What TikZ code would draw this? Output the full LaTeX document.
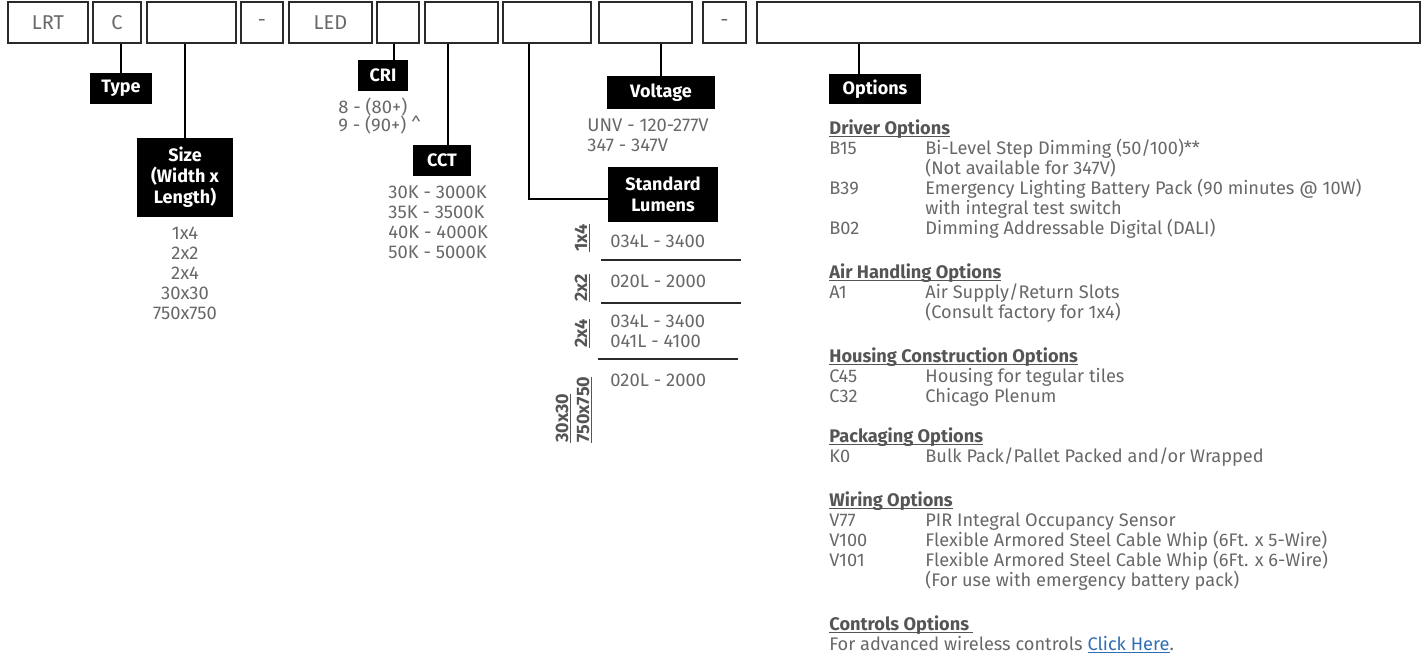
\documentclass[tikz,border=0pt]{standalone}
\usepackage{fontspec}
\setmainfont{Fira Sans}
\definecolor{txt}{HTML}{686868}
\definecolor{hd}{HTML}{555555}
\definecolor{bx}{HTML}{2A2A2A}
\definecolor{lnk}{HTML}{2F6DB5}
\newcommand\ulx[1]{\setbox0\hbox{#1}\rlap{\rule[-1.6pt]{\wd0}{0.55pt}}\box0}
\newcommand\optline[4]{%
  \node[opt,anchor=base west] (#1c) at (829,#2) {#3};
  \node[opt,anchor=base west] (#1d) at (925,#2) {#4};}
\newcommand\opthead[3]{\node[ohead,anchor=base west] (#1) at (829,#2) {\ulx{#3}};}
\begin{document}
\begin{tikzpicture}[x=0.5pt,y=-0.5pt,
  codebox/.style={draw=bx,line width=0.6pt,inner sep=0,text=txt,font=\fontsize{10}{11}\selectfont,minimum height=20.5pt},
  lab/.style={fill=black,text=white,font=\bfseries\fontsize{9}{10.5}\selectfont,inner sep=0,align=center},
  conn/.style={draw=black,line width=0.6pt},
  lst/.style={text=txt,font=\fontsize{9.2}{10}\selectfont,inner sep=0},
  opt/.style={text=txt,font=\fontsize{9.1}{10}\selectfont,inner sep=0},
  ohead/.style={text=hd,font=\bfseries\fontsize{9.1}{10}\selectfont,inner sep=0},
  rot/.style={text=hd,font=\bfseries\fontsize{9}{10}\selectfont,inner sep=0,rotate=90,anchor=base west},
  rule/.style={draw=bx,line width=0.6pt}]
\useasboundingbox (0,0) rectangle (1428,655);
% code boxes
\node[codebox,minimum width=40pt]   (b1)  at (48,22.5)    {LRT};
\node[codebox,minimum width=24pt]   (b2)  at (117,22.5)   {C};
\node[codebox,minimum width=44.5pt] (b3)  at (191.5,22.5) {};
\node[codebox,minimum width=21pt]   (b4)  at (262,22.5)   {-};
\node[codebox,minimum width=41.5pt] (b5)  at (330.5,22.5) {LED};
\node[codebox,minimum width=21pt]   (b6)  at (398,22.5)   {};
\node[codebox,minimum width=36.5pt] (b7)  at (461.5,22.5) {};
\node[codebox,minimum width=44pt]   (b8)  at (547,22.5)   {};
\node[codebox,minimum width=46.5pt] (b9)  at (645.5,22.5) {};
\node[codebox,minimum width=21.5pt] (b10) at (724.5,22.5) {-};
\node[codebox,minimum width=331.5pt](b11) at (1088.5,22.5) {};
% labels
\node[lab,minimum width=31pt,minimum height=15.5pt] (type) at (121,88.5) {Type};
\node[lab,minimum width=48pt,minimum height=39.5pt] (size) at (185,177.5) {Size\\(Width x\\Length)};
\node[lab,minimum width=25pt,minimum height=15.5pt] (cri) at (383,75.5) {CRI};
\node[lab,minimum width=29pt,minimum height=15.5pt] (cct) at (442,160.5) {CCT};
\node[lab,minimum width=54pt,minimum height=16.5pt] (volt) at (661,92.5) {Voltage};
\node[lab,minimum width=55pt,minimum height=27.5pt] (lum) at (663,194.5) {Standard\\Lumens};
\node[lab,minimum width=46pt,minimum height=15pt] (opt) at (875,89) {Options};
% connectors
\coordinate (cT) at (121,43.5);
\coordinate (cS) at (185,43.5);
\coordinate (cR) at (394,43.5);
\coordinate (cC) at (448,43.5);
\coordinate (cL) at (529,43.5);
\coordinate (cL2) at (529,199);
\coordinate (cV) at (661,43.5);
\coordinate (cO) at (859,43.5);
\draw[conn] (cT) -- (type.north);
\draw[conn] (cS) -- (size.north);
\draw[conn] (cR) -- (cR |- cri.north);
\draw[conn] (cC) -- (cC |- cct.north);
\draw[conn] (cL) -- (cL2) -- (cL2 -| lum.west);
\draw[conn] (cV) -- (volt.north);
\draw[conn] (cO) -- (cO |- opt.north);
% size list
\node[lst,anchor=base] (s1) at (185,239) {1x4};
\node[lst,anchor=base] (s2) at (185,259) {2x2};
\node[lst,anchor=base] (s3) at (185,279) {2x4};
\node[lst,anchor=base] (s4) at (185,299) {30x30};
\node[lst,anchor=base] (s5) at (185,319) {750x750};
% CRI list
\node[lst,anchor=base west] (r1) at (338,113) {8 - (80+)};
\node[lst,anchor=base west] (r2) at (338,131) {9 - (90+) \^{}};
% CCT list
\node[lst,anchor=base west] (t1) at (388,198) {30K - 3000K};
\node[lst,anchor=base west] (t2) at (388,218) {35K - 3500K};
\node[lst,anchor=base west] (t3) at (388,238) {40K - 4000K};
\node[lst,anchor=base west] (t4) at (388,258) {50K - 5000K};
% voltage list
\node[lst,anchor=base west] (v1) at (587,131) {UNV - 120-277V};
\node[lst,anchor=base west] (v2) at (587,151) {347 - 347V};
% lumens table
\node[rot] (z1) at (587,252) {\ulx{1x4}};
\node[rot] (z2) at (587,302) {\ulx{2x2}};
\node[rot] (z3) at (587,348) {\ulx{2x4}};
\node[rot] (z4) at (568,443) {\ulx{30x30}};
\node[rot] (z5) at (589,443) {\ulx{750x750}};
\node[lst,anchor=base west] (l1) at (610,247) {034L - 3400};
\node[lst,anchor=base west] (l2) at (610,287) {020L - 2000};
\node[lst,anchor=base west] (l3) at (610,327) {034L - 3400};
\node[lst,anchor=base west] (l4) at (610,347) {041L - 4100};
\node[lst,anchor=base west] (l5) at (610,386) {020L - 2000};
\coordinate (h1a) at (601,260); \coordinate (h1b) at (741,260);
\coordinate (h2a) at (601,303); \coordinate (h2b) at (741,303);
\coordinate (h3a) at (598,359); \coordinate (h3b) at (738,359);
\draw[rule] (h1a) -- (h1b);
\draw[rule] (h2a) -- (h2b);
\draw[rule] (h3a) -- (h3b);
% options
\opthead{hd1}{134}{Driver Options}
\optline{o1}{154}{B15}{Bi-Level Step Dimming (50/100)**}
\node[opt,anchor=base west] (o1x) at (925,174) {(Not available for 347V)};
\optline{o2}{194}{B39}{Emergency Lighting Battery Pack (90 minutes @ 10W)}
\node[opt,anchor=base west] (o2x) at (925,214) {with integral test switch};
\optline{o3}{234}{B02}{Dimming Addressable Digital (DALI)}
\opthead{hd2}{278}{Air Handling Options}
\optline{o4}{298}{A1}{Air Supply/Return Slots}
\node[opt,anchor=base west] (o4x) at (925,318) {(Consult factory for 1x4)};
\opthead{hd3}{362}{Housing Construction Options}
\optline{o5}{382}{C45}{Housing for tegular tiles}
\optline{o6}{402}{C32}{Chicago Plenum}
\opthead{hd4}{442}{Packaging Options}
\optline{o7}{462}{K0}{Bulk Pack/Pallet Packed and/or Wrapped}
\opthead{hd5}{506}{Wiring Options}
\optline{o8}{526}{V77}{PIR Integral Occupancy Sensor}
\optline{o9}{546}{V100}{Flexible Armored Steel Cable Whip (6Ft. x 5-Wire)}
\optline{o10}{566}{V101}{Flexible Armored Steel Cable Whip (6Ft. x 6-Wire)}
\node[opt,anchor=base west] (o10x) at (925,586) {(For use with emergency battery pack)};
\opthead{hd6}{630}{Controls Options\ }
\node[opt,anchor=base west] (o11) at (829,650) {For advanced wireless controls \textcolor{lnk}{\ulx{Click Here}}.};
\end{tikzpicture}
\end{document}
